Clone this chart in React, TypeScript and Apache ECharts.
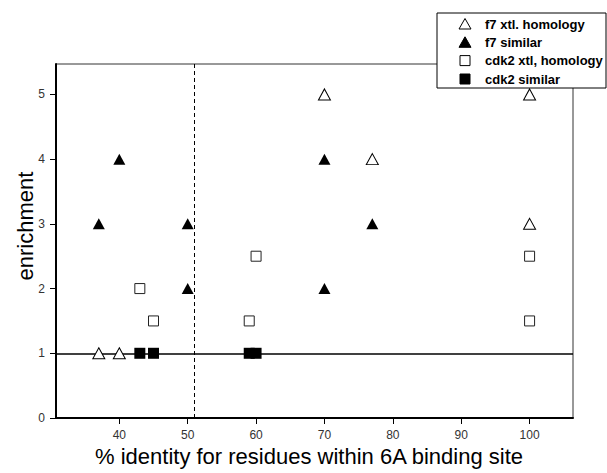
import React, { useEffect, useRef } from "react";
import * as echarts from "echarts";

const xTicks = [40, 50, 60, 70, 80, 90, 100];
const yTicks = [0, 1, 2, 3, 4, 5];

const seriesNames = ["f7 xtl. homology", "f7 similar", "cdk2 xtl, homology", "cdk2 similar"];

const f7Xtl: [number, number][] = [
  [37, 1], [40, 1], [70, 5], [77, 4], [100, 5], [100, 3],
];
const f7Similar: [number, number][] = [
  [37, 3], [40, 4], [50, 3], [50, 2], [70, 4], [70, 2], [77, 3],
];
const cdk2Xtl: [number, number][] = [
  [43, 2], [45, 1.5], [59, 1.5], [60, 2.5], [100, 2.5], [100, 1.5],
];
const cdk2Similar: [number, number][] = [
  [43, 1], [45, 1], [59, 1], [60, 1],
];

const baselineY = 1;
const cutoffX = 51;

const xTitle = "% identity for residues within 6A binding site";
const yTitle = "enrichment";

const FONT = "'Liberation Sans', Arial, sans-serif";

export default function App() {
  const ref = useRef<HTMLDivElement>(null);

  useEffect(() => {
    if (!ref.current) return;
    const chart = echarts.init(ref.current, null, { renderer: "svg" });

    const legendRows = [24, 42.3, 60.6, 79];
    const legendGraphics: any[] = [
      {
        type: "rect",
        shape: { x: 437, y: 13, width: 169, height: 75 },
        style: { fill: "#fff", stroke: "#000", lineWidth: 1 },
        z: 100,
      },
    ];
    legendRows.forEach((yc, i) => {
      const filled = i === 1 || i === 3;
      const isTri = i < 2;
      if (isTri) {
        legendGraphics.push({
          type: "polygon",
          shape: { points: [[459, yc + 5], [471, yc + 5], [465, yc - 5.5]] },
          style: { fill: filled ? "#000" : "#fff", stroke: "#000", lineWidth: 1 },
          z: 101,
        });
      } else {
        legendGraphics.push({
          type: "rect",
          shape: { x: 460, y: yc - 5, width: 10, height: 10 },
          style: { fill: filled ? "#000" : "#fff", stroke: "#000", lineWidth: 1 },
          z: 101,
        });
      }
      legendGraphics.push({
        type: "text",
        x: 485,
        y: yc,
        style: {
          text: seriesNames[i],
          font: `bold 13px ${FONT}`,
          fill: "#000",
          textVerticalAlign: "middle",
          verticalAlign: "middle",
        },
        z: 101,
      });
    });

    const option: any = {
      animation: false,
      backgroundColor: "#fff",
      grid: {
        left: 56,
        right: 34,
        top: 64,
        bottom: 55,
        show: true,
        borderColor: "#333",
        borderWidth: 1,
        backgroundColor: "transparent",
      },
      xAxis: {
        type: "value",
        min: 30.74,
        max: 106.35,
        splitLine: { show: false },
        axisLine: { show: true, onZero: false, lineStyle: { color: "#000", width: 2 } },
        axisTick: { show: true, length: 6, customValues: xTicks, lineStyle: { color: "#000", width: 1 } },
        axisLabel: {
          customValues: xTicks,
          margin: 11,
          color: "#333",
          fontSize: 12,
          fontFamily: FONT,
        },
      },
      yAxis: {
        type: "value",
        min: 0,
        max: 5.47,
        splitLine: { show: false },
        axisLine: { show: true, onZero: false, lineStyle: { color: "#000", width: 2 } },
        axisTick: { show: true, length: 6, customValues: yTicks, lineStyle: { color: "#000", width: 1 } },
        axisLabel: {
          customValues: yTicks,
          margin: 11,
          color: "#333",
          fontSize: 12,
          fontFamily: FONT,
        },
      },
      graphic: [
        {
          type: "text",
          x: 309,
          y: 456,
          style: {
            text: xTitle,
            font: `22px ${FONT}`,
            fill: "#000",
            textAlign: "center",
            align: "center",
            textVerticalAlign: "middle",
            verticalAlign: "middle",
          },
        },
        {
          type: "text",
          x: 25,
          y: 226,
          rotation: Math.PI / 2,
          style: {
            text: yTitle,
            font: `22px ${FONT}`,
            fill: "#000",
            textAlign: "center",
            align: "center",
            textVerticalAlign: "middle",
            verticalAlign: "middle",
          },
        },
        ...legendGraphics,
      ],
      series: [
        {
          name: seriesNames[0],
          type: "scatter",
          data: f7Xtl,
          symbol: "triangle",
          symbolSize: [12, 11],
          itemStyle: { color: "#fff", borderColor: "#000", borderWidth: 1, opacity: 1 },
          z: 5,
          markLine: {
            silent: true,
            symbol: "none",
            label: { show: false },
            data: [
              { yAxis: baselineY, lineStyle: { color: "#000", width: 1.5, type: "solid" } },
              { xAxis: cutoffX, lineStyle: { color: "#000", width: 1, type: [4, 3] } },
            ],
          },
        },
        {
          name: seriesNames[1],
          type: "scatter",
          data: f7Similar,
          symbol: "triangle",
          symbolSize: [12, 11],
          itemStyle: { color: "#000", borderColor: "#000", borderWidth: 0, opacity: 1 },
          z: 5,
        },
        {
          name: seriesNames[2],
          type: "scatter",
          data: cdk2Xtl,
          symbol: "rect",
          symbolSize: 10,
          itemStyle: { color: "#fff", borderColor: "#222", borderWidth: 1, opacity: 1 },
          z: 5,
        },
        {
          name: seriesNames[3],
          type: "scatter",
          data: cdk2Similar,
          symbol: "rect",
          symbolSize: [11, 11],
          itemStyle: { color: "#000", borderColor: "#000", borderWidth: 0, opacity: 1 },
          z: 6,
        },
      ],
    };

    chart.setOption(option);
    return () => chart.dispose();
  }, []);

  return (
    <div
      ref={ref}
      style={{ position: "fixed", left: 0, top: 0, width: 607, height: 473, background: "#fff" }}
    />
  );
}
